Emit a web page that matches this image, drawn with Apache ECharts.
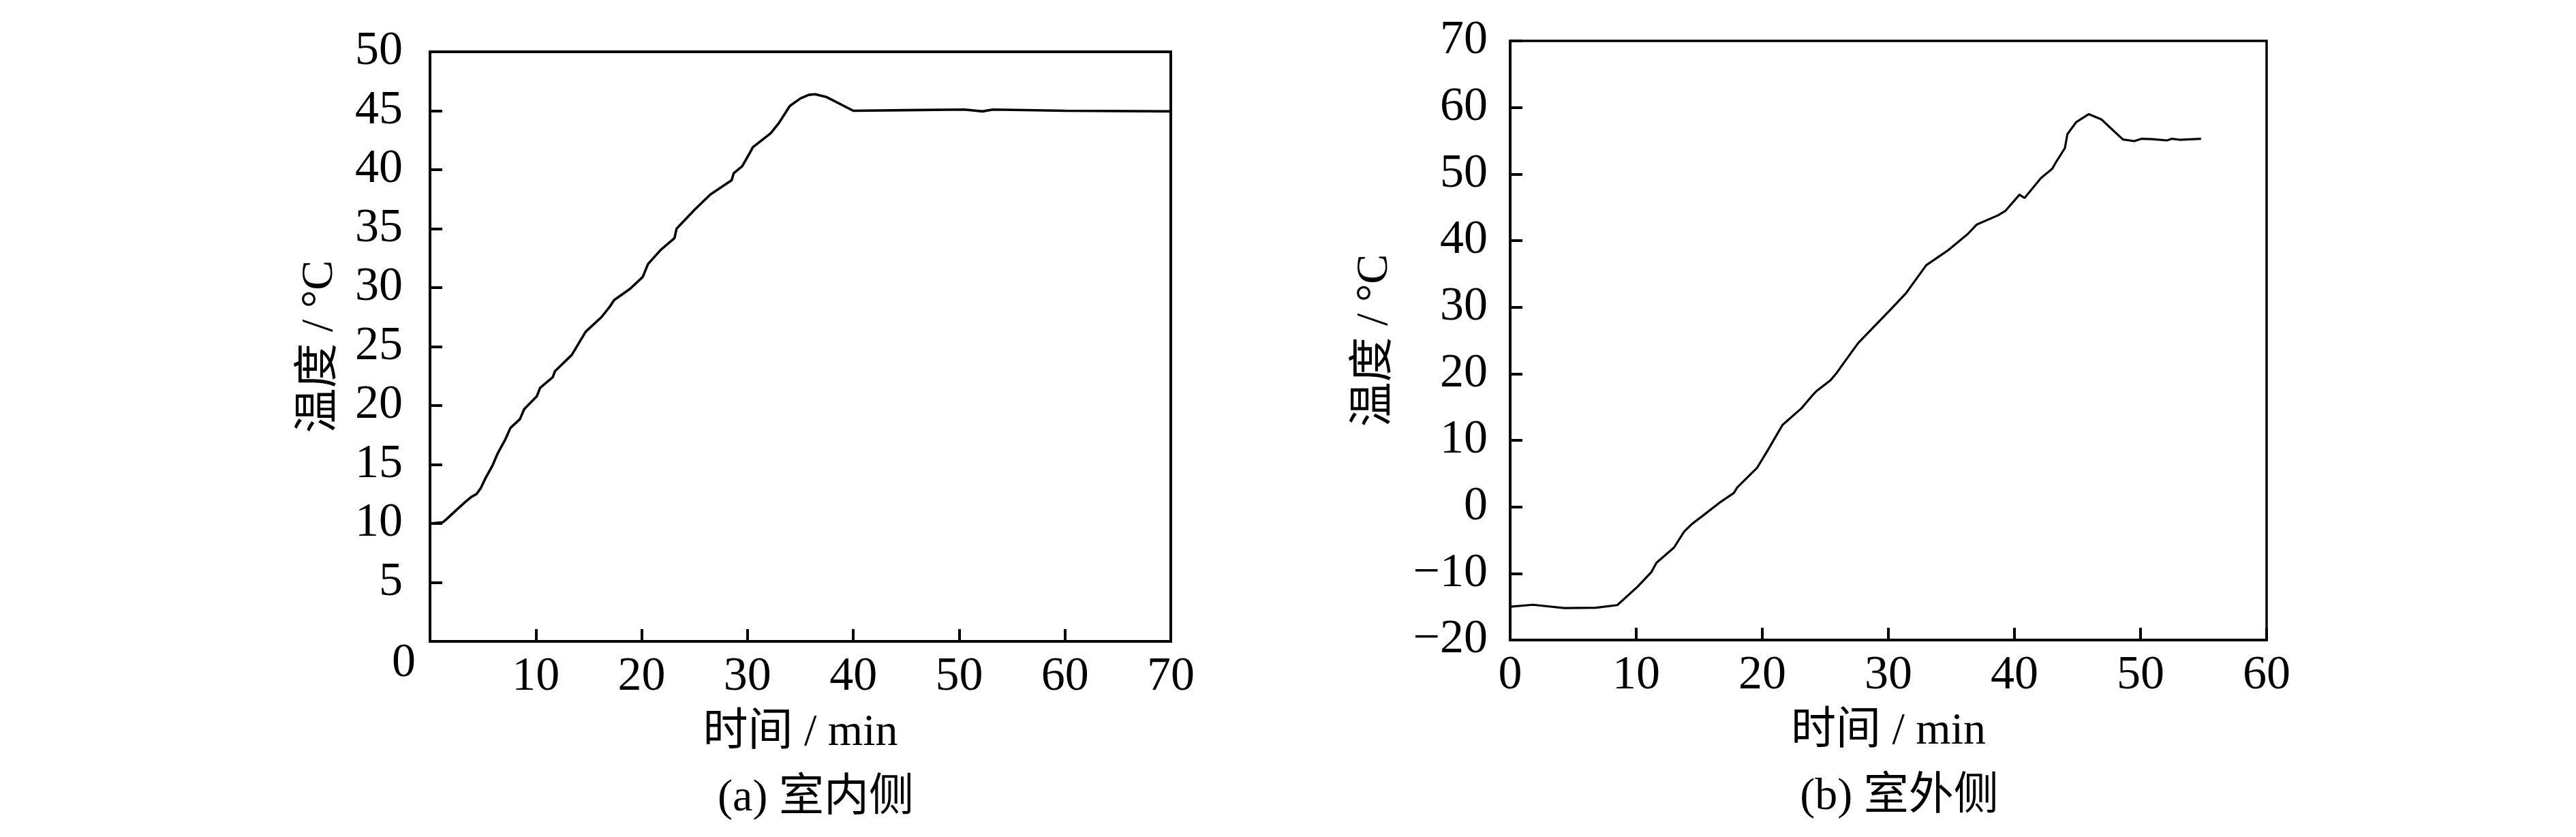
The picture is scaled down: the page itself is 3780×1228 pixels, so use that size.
<!DOCTYPE html>
<html><head><meta charset="utf-8">
<script src="https://cdn.jsdelivr.net/npm/echarts@6/dist/echarts.min.js"></script>
<style>html,body{margin:0;padding:0;background:#fff}#c{width:3780px;height:1228px}</style>
</head><body><div id="c"></div>
<script>
// ---- data ----
const indoorTime = [0,1.2,1.6,2.5,3.3,3.9,4.4,4.8,5.25,5.9,6.4,7.1,7.6,8.5,8.9,10.1,10.4,11.6,11.8,13.4,14.7,16.2,17.0,17.4,18.9,20.1,20.6,21.8,23.1,23.3,25.0,26.5,28.5,28.7,29.5,30.2,30.5,32.2,33.0,34.0,35.0,35.8,36.4,37.5,40.0,45,50.5,52.2,53.2,60,70];
const indoorTemp = [10.0,10.1,10.4,11.15,11.8,12.25,12.5,13.0,13.85,14.9,15.95,17.1,18.1,18.85,19.7,20.8,21.5,22.4,22.9,24.3,26.25,27.5,28.4,28.95,29.9,30.9,32.0,33.2,34.2,35.0,36.6,37.9,39.1,39.7,40.3,41.4,41.9,43.1,44.0,45.4,46.05,46.35,46.4,46.15,45.0,45.05,45.1,44.95,45.1,45.0,44.95];
const outdoorTime = [0,1.8,4.3,6.8,8.5,10.1,11.2,11.6,13.0,13.8,14.4,15.3,16.7,17.75,18.0,19.6,20.4,21.6,23.1,24.0,24.3,25.4,25.85,26.3,27.6,30.2,31.4,33.0,34.7,36.3,37.0,38.7,39.3,40.4,40.8,42.1,43.0,43.3,44.0,44.2,44.9,45.9,46.9,48.6,49.5,50.1,50.9,52.1,52.5,53.1,54.8];
const outdoorTemp = [-15.0,-14.7,-15.2,-15.15,-14.75,-12.0,-9.8,-8.4,-6.1,-3.7,-2.6,-1.3,0.75,2.1,2.9,5.9,8.4,12.3,14.8,16.8,17.4,19.0,20.0,21.2,24.6,29.7,32.1,36.3,38.5,41.0,42.4,43.8,44.5,46.9,46.4,49.4,50.8,51.8,53.9,56.0,57.8,59.0,58.2,55.2,54.95,55.3,55.25,55.05,55.3,55.15,55.3];

const indoorXTicks = [0,10,20,30,40,50,60,70];
const indoorYTicks = [0,5,10,15,20,25,30,35,40,45,50];
const outdoorXTicks = [0,10,20,30,40,50,60];
const outdoorYTicks = [-20,-10,0,10,20,30,40,50,60,70];

const xName = '时间 / min';
const yName = '温度 / °C';
const captions = ['(a) 室内侧', '(b) 室外侧'];

// ---- chart ----
const FONT = "'Liberation Serif','Noto Sans CJK SC',serif";
const FS = 70;
const NFS = 66;
const pairs = (xs, ys) => xs.map((x, i) => [x, ys[i]]);
const minus = v => String(v).replace('-', '\u2212');

function xAxisFor(ticks, gridIndex, hideZero) {
  return {
    type: 'value', gridIndex,
    min: ticks[0], max: ticks[ticks.length - 1], interval: ticks[1] - ticks[0],
    name: xName, nameLocation: 'middle', nameGap: 102,
    nameTextStyle: { fontFamily: FONT, fontSize: NFS, color: '#000' },
    axisLine: { show: true, onZero: false, lineStyle: { color: '#000', width: 4 } },
    axisTick: { show: true, inside: true, length: 18, lineStyle: { color: '#000', width: 4 } },
    axisLabel: { show: true, margin: 18, fontFamily: FONT, fontSize: FS, color: '#000',
      formatter: v => (hideZero && v === 0) ? '' : minus(v) },
    splitLine: { show: false }
  };
}
function yAxisFor(ticks, gridIndex, hideZero, labelMargin, nameGap) {
  return {
    type: 'value', gridIndex,
    min: ticks[0], max: ticks[ticks.length - 1], interval: ticks[1] - ticks[0],
    name: yName, nameLocation: 'middle', nameGap: nameGap, nameRotate: 90,
    nameTextStyle: { fontFamily: FONT, fontSize: NFS, color: '#000' },
    axisLine: { show: true, onZero: false, lineStyle: { color: '#000', width: 4 } },
    axisTick: { show: true, inside: true, length: 18, lineStyle: { color: '#000', width: 4 } },
    axisLabel: { show: true, margin: labelMargin, fontFamily: FONT, fontSize: FS, color: '#000',
      formatter: v => (hideZero && v === 0) ? '' : minus(v) },
    splitLine: { show: false }
  };
}

const chart = echarts.init(document.getElementById('c'), null, { renderer: 'canvas' });
chart.setOption({
  animation: false,
  backgroundColor: '#fff',
  title: [
    { text: captions[0], left: 1192, top: 1134, textAlign: 'center',
      textStyle: { fontFamily: FONT, fontSize: NFS, fontWeight: 'normal', color: '#000' } },
    { text: captions[1], left: 2782, top: 1132, textAlign: 'center',
      textStyle: { fontFamily: FONT, fontSize: NFS, fontWeight: 'normal', color: '#000' } }
  ],
  grid: [
    { left: 631, top: 76, width: 1087, height: 865, show: true, borderColor: '#000', borderWidth: 4, backgroundColor: 'transparent' },
    { left: 2216, top: 60, width: 1110, height: 879, show: true, borderColor: '#000', borderWidth: 3.5, backgroundColor: 'transparent' }
  ],
  xAxis: [ xAxisFor(indoorXTicks, 0, true), xAxisFor(outdoorXTicks, 1, false) ],
  yAxis: [ yAxisFor(indoorYTicks, 0, true, 40, 128), yAxisFor(outdoorYTicks, 1, false, 33, 165) ],
  series: [
    { type: 'line', xAxisIndex: 0, yAxisIndex: 0, data: pairs(indoorTime, indoorTemp),
      showSymbol: false, symbol: 'none', lineStyle: { color: '#000', width: 3.6 } },
    { type: 'line', xAxisIndex: 1, yAxisIndex: 1, data: pairs(outdoorTime, outdoorTemp),
      showSymbol: false, symbol: 'none', lineStyle: { color: '#000', width: 3.2 } }
  ]
});

// shared origin label "0" of the indoor panel, placed below-left of the corner
const origin = chart.convertToPixel({ gridIndex: 0 }, [indoorXTicks[0], indoorYTicks[0]]);
chart.setOption({
  graphic: [{
    type: 'text', x: origin[0] - 21, y: origin[1] + 33,
    style: { text: String(indoorYTicks[0]), fontFamily: FONT, fontSize: FS, fill: '#000', align: 'right', verticalAlign: 'middle' }
  }]
});
</script>
</body></html>
